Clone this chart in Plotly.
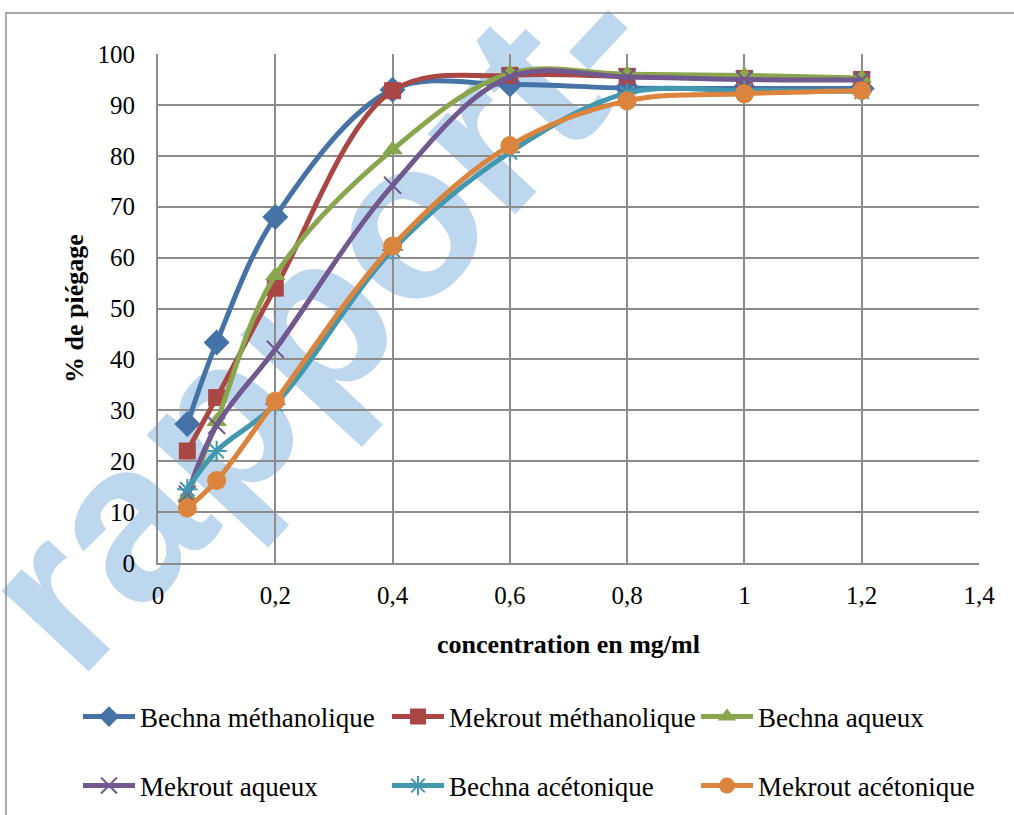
import plotly.graph_objects as go

# Concentrations (mg/ml) and scavenging percentages per extract
concentration = [0.05, 0.1, 0.2, 0.4, 0.6, 0.8, 1.0, 1.2]
bechna_methanolique = [27.3, 43.3, 68.0, 93.0, 94.0, 93.3, 93.2, 93.2]
mekrout_methanolique = [22.0, 32.5, 54.0, 92.8, 95.8, 95.6, 95.2, 95.0]
bechna_aqueux = [13.0, 27.8, 56.5, 81.2, 96.2, 96.0, 95.8, 95.3]
mekrout_aqueux = [13.5, 27.0, 42.0, 74.2, 95.5, 95.5, 95.0, 94.9]
bechna_acetonique = [14.5, 22.0, 31.2, 61.5, 80.7, 92.3, 92.8, 92.6]
mekrout_acetonique = [10.8, 16.2, 31.8, 62.3, 82.0, 90.8, 92.2, 92.8]

series_names = ["Bechna méthanolique", "Mekrout méthanolique", "Bechna aqueux",
                "Mekrout aqueux", "Bechna acétonique", "Mekrout acétonique"]

FONT = "Liberation Serif, Times New Roman, serif"
GRID = "#8c8c8c"

styles = [
    dict(data=bechna_methanolique, color="#4572A7", symbol="diamond", size=20, legend="legend"),
    dict(data=mekrout_methanolique, color="#AA4643", symbol="square", size=17, legend="legend"),
    dict(data=bechna_aqueux, color="#89A54E", symbol="triangle-up", size=18, legend="legend"),
    dict(data=mekrout_aqueux, color="#71588F", symbol="x-thin-open", size=17, legend="legend2"),
    dict(data=bechna_acetonique, color="#4198AF", symbol="asterisk-open", size=17, legend="legend2"),
    dict(data=mekrout_acetonique, color="#DB843D", symbol="circle", size=19, legend="legend2"),
]

fig = go.Figure()
for name, st in zip(series_names, styles):
    open_sym = st["symbol"].endswith("open")
    fig.add_trace(go.Scatter(
        x=concentration, y=st["data"], name=name, mode="lines+markers",
        line=dict(color=st["color"], width=5, shape="spline", smoothing=1),
        marker=dict(symbol=st["symbol"], size=st["size"], color=st["color"],
                    line=dict(color=st["color"], width=2 if open_sym else 0)),
        legend=st["legend"], cliponaxis=False,
    ))

# plot area in pixels
W, H = 1014, 815
L, R, T, B = 158, 979, 54, 563
pw, ph = R - L, B - T


def px(x):
    return (x - L) / pw


def py(y):
    return (B - y) / ph


legend_common = dict(orientation="h", xanchor="left", yanchor="middle",
                     entrywidth=242, entrywidthmode="pixels", itemwidth=52,
                     font=dict(family=FONT, size=27), bgcolor="rgba(0,0,0,0)")

fig.update_layout(
    width=W, height=H,
    margin=dict(l=L, r=W - R, t=T, b=H - B, autoexpand=False),
    paper_bgcolor="white", plot_bgcolor="rgba(0,0,0,0)",
    separators=", ",
    font=dict(family=FONT, size=26, color="black"),
    xaxis=dict(range=[0, 1.4], dtick=0.2, tick0=0, showgrid=True, gridcolor=GRID, gridwidth=2,
               showline=True, linecolor=GRID, linewidth=2, zeroline=False, ticks="",
               ticklabelstandoff=9, tickfont=dict(family=FONT, size=25),
               title=dict(text="<b>concentration en mg/ml</b>", font=dict(family=FONT, size=26),
                          standoff=27)),
    yaxis=dict(range=[0, 100], dtick=10, showgrid=True, gridcolor=GRID, gridwidth=2,
               showline=True, linecolor=GRID, linewidth=2, zeroline=False, ticks="",
               ticklabelstandoff=16, tickfont=dict(family=FONT, size=25),
               title=dict(text="<b>% de piégage</b>", font=dict(family=FONT, size=26),
                          standoff=6)),
    legend=dict(legend_common, x=px(78), y=py(717)),
    legend2=dict(legend_common, x=px(78), y=py(786)),
    shapes=[
        # watermark behind the plot
        dict(type="rect", xref="paper", yref="paper", layer="below",
             x0=px(0), x1=px(600), y0=py(600), y1=py(0),
             line=dict(width=0), fillcolor="rgba(0,0,0,0)",
             label=dict(text="<b>rapport-</b>", textangle=-47, textposition="middle center",
                        font=dict(family="Liberation Sans, Arial", size=225, color="#BDD7EE"))),
        # chart frame
        dict(type="rect", xref="paper", yref="paper", layer="above",
             x0=px(6), x1=px(1040), y0=py(840), y1=py(13),
             line=dict(color="#8c8c8c", width=1.5), fillcolor="rgba(0,0,0,0)"),
    ],
)

fig.write_html("out.html")
